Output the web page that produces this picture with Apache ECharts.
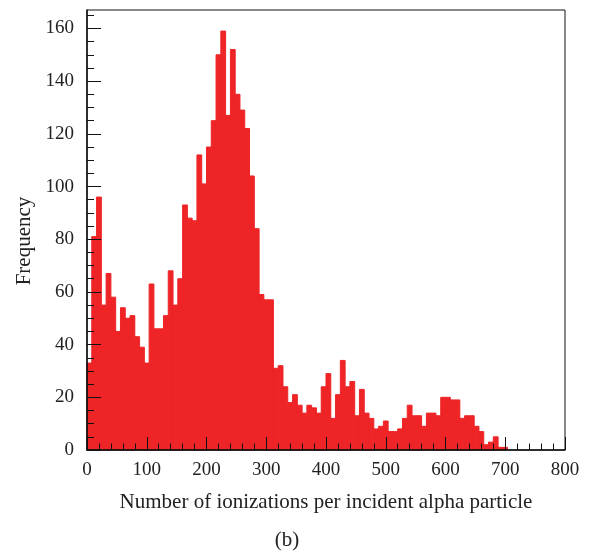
<!DOCTYPE html>
<html>
<head>
<meta charset="utf-8">
<script src="https://cdn.jsdelivr.net/npm/echarts@6/dist/echarts.min.js"></script>
<style>
html,body{margin:0;padding:0;background:#fff;}
#chart{width:589px;height:552px;}
</style>
</head>
<body>
<div id="chart"></div>
<script>
// Histogram: 100 bins of width 8 over 0..800
const binStart = 0;
const binWidth = 8;
const counts = [
  33, 81, 96, 55, 67, 58, 45, 54, 50, 51,
  43, 39, 33, 63, 46, 46, 51, 68, 55, 65,
  93, 88, 87, 112, 101, 115, 125, 150, 159, 127,
  152, 135, 129, 122, 104, 84, 59, 57, 57, 31,
  32, 24, 18, 21, 17, 14, 17, 16, 14, 24,
  29, 12, 21, 34, 24, 26, 13, 23, 14, 12,
  8, 9, 11, 7, 7, 8, 12, 17, 13, 13,
  9, 14, 14, 13, 20, 20, 19, 19, 12, 13,
  13, 9, 7, 2, 3, 5, 1, 1, 0, 0,
  0, 0, 0, 0, 0, 0, 0, 0, 0, 0
];
const xTicks = [0, 100, 200, 300, 400, 500, 600, 700, 800];
const yMajorTicks = [0, 20, 40, 60, 80, 100, 120, 140, 160];
const yMinorTicks = [5, 10, 15, 25, 30, 35, 45, 50, 55, 65, 70, 75, 85, 90, 95,
  105, 110, 115, 125, 130, 135, 145, 150, 155, 165];
const xTitle = 'Number of ionizations per incident alpha particle';
const yTitle = 'Frequency';
const caption = '(b)';

const barColor = '#ee2427';
const font = '"Liberation Serif", "DejaVu Serif", serif';

const histData = counts.map((c, i) => [binStart + i * binWidth, binStart + (i + 1) * binWidth, c]);

const chart = echarts.init(document.getElementById('chart'));
chart.setOption({
  animation: false,
  backgroundColor: '#fff',
  grid: {
    left: 87, right: 24, top: 10, bottom: 102,
    show: true, borderColor: '#111', borderWidth: 1, z: 10,
    containLabel: false, outerBoundsMode: 'none'
  },
  xAxis: {
    type: 'value',
    z: 10,
    min: xTicks[0], max: xTicks[xTicks.length - 1], interval: 100,
    axisLine: { show: true, lineStyle: { color: '#111', width: 1.5 } },
    axisTick: { show: true, inside: true, length: 13, lineStyle: { color: '#111', width: 1 } },
    minorTick: { show: true, splitNumber: 5, length: 6.5, lineStyle: { color: '#111', width: 1 } },
    splitLine: { show: false },
    axisLabel: { color: '#222', fontFamily: font, fontSize: 19, margin: 11 },
    name: xTitle,
    nameLocation: 'middle',
    nameGap: 42,
    nameTextStyle: { color: '#222', fontFamily: font, fontSize: 21 }
  },
  yAxis: [
    {
      type: 'value',
      z: 10,
      min: 0, max: 167,
      axisLine: { show: true, lineStyle: { color: '#111', width: 1.5 } },
      axisTick: { show: true, inside: true, length: 14, customValues: yMajorTicks, lineStyle: { color: '#111', width: 1 } },
      axisLabel: { color: '#222', fontFamily: font, fontSize: 19, margin: 13, customValues: yMajorTicks },
      splitLine: { show: false }
    },
    {
      type: 'value',
      z: 10,
      min: 0, max: 167,
      position: 'left',
      axisLine: { show: false },
      axisTick: { show: true, inside: true, length: 7, customValues: yMinorTicks, lineStyle: { color: '#111', width: 1 } },
      axisLabel: { show: false },
      splitLine: { show: false }
    }
  ],
  series: [{
    type: 'custom',
    xAxisIndex: 0,
    yAxisIndex: 0,
    encode: { x: [0, 1], y: 2 },
    data: histData,
    renderItem: function (params, api) {
      const x0 = api.value(0), x1 = api.value(1), v = api.value(2);
      if (!v) return null;
      const p0 = api.coord([x0, v]);
      const p1 = api.coord([x1, 0]);
      return {
        type: 'rect',
        shape: { x: p0[0], y: p0[1], width: p1[0] - p0[0], height: p1[1] - p0[1] },
        style: { fill: barColor, stroke: barColor, lineWidth: 1 }
      };
    },
    z: 1
  }],
  graphic: [
    {
      type: 'text', x: 24, y: 241, rotation: Math.PI / 2,
      style: { text: yTitle, fill: '#222', font: '21px ' + font, align: 'center', verticalAlign: 'middle' }
    },
    {
      type: 'text', x: 287, y: 540,
      style: { text: caption, fill: '#222', font: '21px ' + font, align: 'center', verticalAlign: 'middle' }
    }
  ]
});
</script>
</body>
</html>
